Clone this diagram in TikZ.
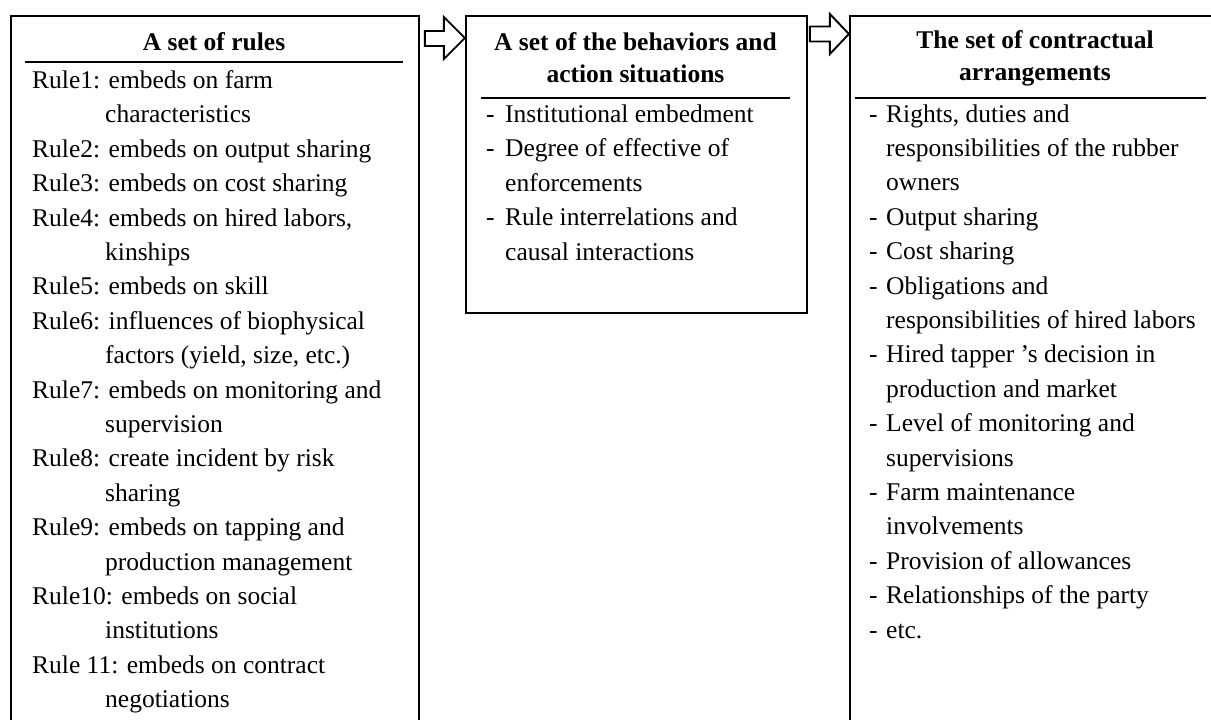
\documentclass[tikz,border=0pt]{standalone}
\usepackage{fontspec}
\setmainfont{Liberation Serif}
\usetikzlibrary{calc}
\tikzset{
  box/.style={draw, line width=1.9pt, inner sep=0pt, anchor=north west},
  hline/.style={line width=2.2pt},
  blockarr/.style={draw, line width=1.9pt, line join=miter},
  txt/.style={anchor=base west, inner sep=0pt, font=\fontsize{25.5}{30}\selectfont},
  hd/.style={anchor=base, inner sep=0pt, font=\fontsize{25.5}{30}\selectfont\bfseries},
}
\begin{document}
\begin{tikzpicture}[x=1pt, y=-1pt]
\useasboundingbox (0,0) rectangle (1211,720);
\clip (0,0) rectangle (1211,720);
% boxes
\node[box, minimum width=408, minimum height=740] (rules) at (10,15) {};
\node[box, minimum width=341, minimum height=297] (behav) at (465,15) {};
\node[box, minimum width=380, minimum height=740] (contr) at (849,15) {};
% block arrows
\begin{scope}[shift={(rules.north east)}]
  \draw[blockarr] (5,16)--(24,16)--(24,2)--(45,23)--(24,44)--(24,31)--(5,31)--cycle;
\end{scope}
\begin{scope}[shift={(behav.north east)}]
  \draw[blockarr] (2,11.5)--(22,11.5)--(22,-1)--(41,19)--(22,39)--(22,26.5)--(2,26.5)--cycle;
\end{scope}
% headers
\node[hd] (h1) at (214,50) {A set of rules};
\draw[hline] (25,62) -- (403,62);
\node[hd] (h2a) at (635.5,50) {A set of the behaviors and};
\node[hd] (h2b) at (635.5,82) {action situations};
\draw[hline] (481,98) -- (790,98);
\node[hd] (h3a) at (1035,48) {The set of contractual};
\node[hd] (h3b) at (1035,80) {arrangements};
\draw[hline] (855,98) -- (1206,98);
% left box
\foreach \y/\x/\t [count=\i] in {
  88.4/32/{Rule1: embeds on farm},
  122.8/105/{characteristics},
  157.2/32/{Rule2: embeds on output sharing},
  191.6/32/{Rule3: embeds on cost sharing},
  226/32/{Rule4: embeds on hired labors,},
  260.4/105/{kinships},
  294.8/32/{Rule5: embeds on skill},
  329.2/32/{Rule6: influences of biophysical},
  363.6/105/{factors (yield, size, etc.)},
  398/32/{Rule7: embeds on monitoring and},
  432.4/105/{supervision},
  466.8/32/{Rule8: create incident by risk},
  501.2/105/{sharing},
  535.6/32/{Rule9: embeds on tapping and},
  570/105/{production management},
  604.4/32/{Rule10: embeds on social},
  638.8/105/{institutions},
  673.2/32/{Rule 11: embeds on contract},
  707.6/105/{negotiations}}
  \node[txt] (l\i) at (\x,\y) {\t};
% middle box
\foreach \y/\d/\t [count=\i] in {
  122/1/{Institutional embedment},
  156.5/1/{Degree of effective of},
  191/0/{enforcements},
  225.5/1/{Rule interrelations and},
  260/0/{causal interactions}}
  {\node[txt] (m\i) at (505,\y) {\t};
   \ifnum\d=1 \node[txt] (md\i) at (486,\y) {-};\fi}
% right box
\foreach \y/\d/\t [count=\i] in {
  122/1/{Rights, duties and},
  156.4/0/{responsibilities of the rubber},
  190.8/0/{owners},
  225.2/1/{Output sharing},
  259.6/1/{Cost sharing},
  294/1/{Obligations and},
  328.4/0/{responsibilities of hired labors},
  362.8/1/{Hired tapper ’s decision in},
  397.2/0/{production and market},
  431.6/1/{Level of monitoring and},
  466/0/{supervisions},
  500.4/1/{Farm maintenance},
  534.8/0/{involvements},
  569.2/1/{Provision of allowances},
  603.6/1/{Relationships of the party},
  638/1/{etc.}}
  {\node[txt] (r\i) at (886,\y) {\t};
   \ifnum\d=1 \node[txt] (rd\i) at (869,\y) {-};\fi}
\end{tikzpicture}
\end{document}
